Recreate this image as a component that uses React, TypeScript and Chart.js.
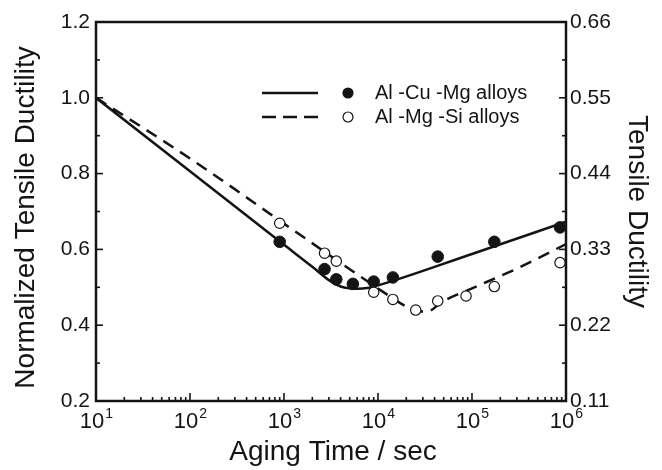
import { useEffect, useRef } from 'react';
import { Chart, registerables } from 'chart.js';
Chart.register(...registerables);

// Measured data (aging time in s, normalized tensile ductility)
const cuMgTime = [900, 2700, 3600, 5400, 9000, 14400, 43200, 172800, 864000];
const cuMgDuctility = [0.62, 0.548, 0.521, 0.509, 0.515, 0.526, 0.581, 0.62, 0.658];
const mgSiTime = [900, 2700, 3600, 9000, 14400, 25200, 43200, 86400, 172800, 864000];
const mgSiDuctility = [0.669, 0.59, 0.569, 0.487, 0.468, 0.44, 0.464, 0.477, 0.502, 0.565];

// Model curves
const cuMgFitTime = [10, 100, 1000, 2000, 3000, 4000, 5000, 6000, 8000, 10000, 100000, 1000000];
const cuMgFitValue = [1.0, 0.806, 0.612, 0.554, 0.519, 0.502, 0.497, 0.496, 0.499, 0.505, 0.588, 0.673];
const mgSiFitTime = [10, 100, 1000, 3162, 10000, 20000, 26000, 33000, 50000, 100000, 316228, 1000000];
const mgSiFitValue = [1.0, 0.84, 0.668, 0.582, 0.497, 0.449, 0.436, 0.436, 0.464, 0.497, 0.552, 0.614];

// Axis ticks
const xDecades = [10, 100, 1000, 10000, 100000, 1000000];
const xExponents = ['1', '2', '3', '4', '5', '6'];
const leftTicks = [0.2, 0.4, 0.6, 0.8, 1.0, 1.2];
const rightTicks = [0.11, 0.22, 0.33, 0.44, 0.55, 0.66];

const seriesNames = ['Al -Cu -Mg alloys', 'Al -Mg -Si alloys'];
const xTitle = 'Aging Time / sec';
const yTitle = 'Normalized Tensile Ductility';
const y2Title = 'Tensile Ductility';

const FONT = '"Liberation Sans", Arial, Helvetica, sans-serif';
const INK = '#141414';

const toXY = (xs: number[], ys: number[]) => xs.map((x, i) => ({ x, y: ys[i] }));

const decorPlugin = {
  id: 'decor',
  afterDraw(chart: any) {
    const { ctx, chartArea: a, scales } = chart;
    const sx = scales.x, sl = scales.y, sr = scales.y2;
    ctx.save();
    ctx.strokeStyle = INK;
    ctx.fillStyle = INK;
    // frame
    ctx.lineWidth = 2.5;
    ctx.strokeRect(a.left, a.top, a.right - a.left, a.bottom - a.top);
    // ticks (inward)
    ctx.lineWidth = 1.6;
    const hLine = (x0: number, x1: number, y: number) => {
      ctx.beginPath(); ctx.moveTo(x0, y); ctx.lineTo(x1, y); ctx.stroke();
    };
    const vLine = (x: number, y0: number, y1: number) => {
      ctx.beginPath(); ctx.moveTo(x, y0); ctx.lineTo(x, y1); ctx.stroke();
    };
    leftTicks.forEach((v, i) => {
      hLine(a.left, a.left + 7, sl.getPixelForValue(v));
      if (i < leftTicks.length - 1) {
        const m = (v + leftTicks[i + 1]) / 2;
        hLine(a.left, a.left + 4, sl.getPixelForValue(m));
      }
    });
    rightTicks.forEach((v, i) => {
      hLine(a.right - 7, a.right, sr.getPixelForValue(v));
      if (i < rightTicks.length - 1) {
        const m = (v + rightTicks[i + 1]) / 2;
        hLine(a.right - 4, a.right, sr.getPixelForValue(m));
      }
    });
    xDecades.forEach((d, i) => {
      vLine(sx.getPixelForValue(d), a.bottom, a.bottom - 8);
      if (i < xDecades.length - 1) {
        for (let k = 2; k <= 9; k++) {
          vLine(sx.getPixelForValue(d * k), a.bottom, a.bottom - 4);
        }
      }
    });
    // tick labels
    ctx.font = `21px ${FONT}`;
    ctx.textBaseline = 'middle';
    ctx.textAlign = 'right';
    leftTicks.forEach((v) => ctx.fillText(v.toFixed(1), a.left - 6, sl.getPixelForValue(v)));
    ctx.textAlign = 'left';
    rightTicks.forEach((v) => ctx.fillText(v.toFixed(2), a.right + 4, sr.getPixelForValue(v)));
    ctx.textBaseline = 'alphabetic';
    xDecades.forEach((d, i) => {
      const px = sx.getPixelForValue(d);
      ctx.font = `22px ${FONT}`;
      const wb = ctx.measureText('10').width;
      ctx.font = `14px ${FONT}`;
      const we = ctx.measureText(xExponents[i]).width;
      const x0 = px - (wb + we) / 2;
      ctx.textAlign = 'left';
      ctx.font = `22px ${FONT}`;
      ctx.fillText('10', x0, a.bottom + 27);
      ctx.font = `14px ${FONT}`;
      ctx.fillText(xExponents[i], x0 + wb + 1, a.bottom + 17);
    });
    // axis titles
    ctx.font = `28px ${FONT}`;
    ctx.textAlign = 'center';
    ctx.fillText(xTitle, (a.left + a.right) / 2 + 2, a.bottom + 59);
    const cy = (a.top + a.bottom) / 2;
    ctx.save();
    ctx.translate(26, cy + 6);
    ctx.rotate(-Math.PI / 2);
    ctx.textBaseline = 'middle';
    ctx.fillText(yTitle, 0, 0);
    ctx.restore();
    ctx.save();
    ctx.translate(a.right + 71, cy);
    ctx.rotate(Math.PI / 2);
    ctx.textBaseline = 'middle';
    ctx.fillText(y2Title, 0, 0);
    ctx.restore();
    // legend
    const rows = [a.top + 71, a.top + 95];
    ctx.lineWidth = 2.5;
    ctx.beginPath(); ctx.moveTo(262, rows[0]); ctx.lineTo(318, rows[0]); ctx.stroke();
    ctx.setLineDash([14, 7]);
    ctx.beginPath(); ctx.moveTo(262, rows[1]); ctx.lineTo(318, rows[1]); ctx.stroke();
    ctx.setLineDash([]);
    ctx.beginPath(); ctx.arc(348, rows[0], 5.6, 0, Math.PI * 2); ctx.fill();
    ctx.fillStyle = '#fff';
    ctx.lineWidth = 1.2;
    ctx.beginPath(); ctx.arc(348, rows[1], 5, 0, Math.PI * 2); ctx.fill(); ctx.stroke();
    ctx.fillStyle = INK;
    ctx.font = `20px ${FONT}`;
    ctx.textAlign = 'left';
    ctx.textBaseline = 'middle';
    ctx.fillText(seriesNames[0], 375, rows[0]);
    ctx.fillText(seriesNames[1], 375, rows[1]);
    ctx.restore();
  },
};

export default function App() {
  const ref = useRef<HTMLCanvasElement | null>(null);
  useEffect(() => {
    document.body.style.margin = '0';
    const canvas = ref.current;
    if (!canvas) return;
    const chart = new Chart(canvas, {
      type: 'scatter',
      data: {
        datasets: [
          {
            label: 'fit1',
            data: toXY(cuMgFitTime, cuMgFitValue),
            showLine: true,
            borderColor: INK,
            borderWidth: 2.5,
            pointRadius: 0,
            cubicInterpolationMode: 'monotone',
            order: 2,
          },
          {
            label: 'fit2',
            data: toXY(mgSiFitTime, mgSiFitValue),
            showLine: true,
            borderColor: INK,
            borderWidth: 2.5,
            borderDash: [12, 8],
            pointRadius: 0,
            cubicInterpolationMode: 'monotone',
            order: 2,
          },
          {
            label: seriesNames[0],
            data: toXY(cuMgTime, cuMgDuctility),
            pointRadius: 5.8,
            backgroundColor: INK,
            borderColor: INK,
            borderWidth: 1,
            order: 1,
          },
          {
            label: seriesNames[1],
            data: toXY(mgSiTime, mgSiDuctility),
            pointRadius: 5.2,
            backgroundColor: '#fff',
            borderColor: INK,
            borderWidth: 1.2,
            order: 0,
          },
        ],
      } as any,
      options: {
        animation: false,
        responsive: false,
        devicePixelRatio: 1,
        layout: { padding: { top: 22, left: 0, right: 0, bottom: 0 } },
        plugins: { legend: { display: false }, tooltip: { enabled: false } },
        scales: {
          x: {
            type: 'logarithmic',
            min: 10,
            max: 1000000,
            grid: { display: false },
            border: { display: false },
            ticks: { display: false },
            afterFit: (s: any) => { s.height = 69; },
          },
          y: {
            type: 'linear',
            position: 'left',
            min: 0.2,
            max: 1.2,
            grid: { display: false },
            border: { display: false },
            ticks: { display: false },
            afterFit: (s: any) => { s.width = 96; },
          },
          y2: {
            type: 'linear',
            position: 'right',
            min: 0.11,
            max: 0.66,
            grid: { display: false },
            border: { display: false },
            ticks: { display: false },
            afterFit: (s: any) => { s.width = 96; },
          },
        },
      } as any,
      plugins: [decorPlugin],
    });
    return () => chart.destroy();
  }, []);
  return <canvas ref={ref} width={662} height={470} style={{ display: 'block' }} />;
}
